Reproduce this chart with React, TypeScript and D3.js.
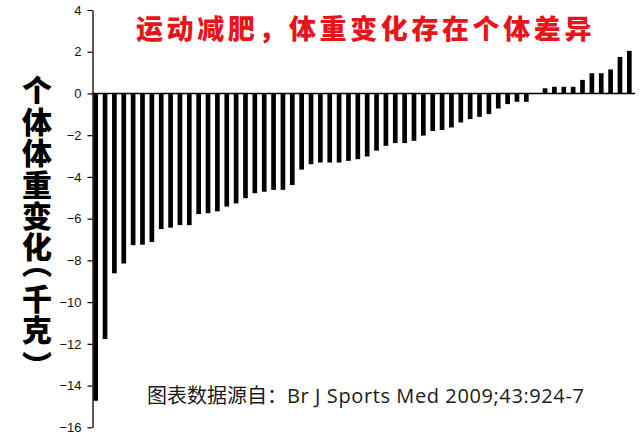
import React, { useRef, useEffect } from 'react';
import * as d3 from 'd3';

// weight change per participant (kg), sorted
const participants = d3.range(1, 59).map((i) => `P${i}`);
const weightChange = [
  -14.73, -11.77, -8.62, -8.15, -7.27, -7.25, -7.12, -6.5, -6.43, -6.31,
  -6.31, -5.78, -5.74, -5.65, -5.42, -5.27, -5.02, -4.78, -4.71, -4.62,
  -4.62, -4.39, -3.65, -3.39, -3.31, -3.31, -3.31, -3.23, -3.15, -3.02,
  -2.74, -2.51, -2.38, -2.38, -2.27, -2.02, -1.8, -1.75, -1.63, -1.39,
  -1.23, -1.12, -0.99, -0.72, -0.51, -0.4, -0.4, 0, 0.25, 0.32,
  0.32, 0.32, 0.65, 0.97, 0.97, 1.15, 1.75, 2.04,
];
const yTicks = [4, 2, 0, -2, -4, -6, -8, -10, -12, -14, -16];

const title = '运动减肥，体重变化存在个体差异';
// vertical title (parentheses as vertical presentation forms)
const yTitleParts = ['个体体重变化', '︵', '千克', '︶'];
const yTitleShifts = [0, -15, 3.6, 4];
const sourceCn = '图表数据源自：';
const sourceEn = 'Br J Sports Med 2009;43:924-7';

const WIDTH = 640;
const HEIGHT = 437;

const App: React.FC = () => {
  const svgRef = useRef<SVGSVGElement>(null);

  useEffect(() => {
    if (!svgRef.current) return;
    const svg = d3.select(svgRef.current);
    svg.selectAll('*').remove();

    const x = d3.scaleBand<string>()
      .domain(participants)
      .range([91, 634])
      .paddingInner(0.5)
      .paddingOuter(0.25);

    const y = d3.scaleLinear().domain([-16, 4]).range([427.3, 10]);

    // bars
    svg.append('g')
      .selectAll('rect')
      .data(weightChange)
      .enter()
      .append('rect')
      .attr('x', (d, i) => x(participants[i]) as number)
      .attr('width', x.bandwidth())
      .attr('y', (d) => y(Math.max(0, d)))
      .attr('height', (d) => Math.abs(y(d) - y(0)))
      .attr('fill', '#000');

    // y axis
    const axisX = 92.5;
    const yAxis = d3.axisLeft(y).tickValues(yTicks).tickSize(5).tickSizeOuter(0).tickPadding(6);
    const gAxis = svg.append('g')
      .attr('transform', `translate(${axisX},0)`)
      .call(yAxis);
    gAxis.select('.domain').attr('stroke', '#000').attr('stroke-width', 1.3);
    gAxis.selectAll('.tick line').attr('stroke', '#000').attr('stroke-width', 1.2);
    gAxis.selectAll('.tick text')
      .attr('fill', '#111')
      .style('font-family', '"Liberation Sans", Arial, sans-serif')
      .style('font-size', '13px');

    // zero line
    svg.append('line')
      .attr('x1', axisX)
      .attr('x2', 635)
      .attr('y1', y(0))
      .attr('y2', y(0))
      .attr('stroke', '#000')
      .attr('stroke-width', 1.5);

    // title
    svg.append('text')
      .attr('x', 136)
      .attr('y', 27)
      .attr('dominant-baseline', 'central')
      .attr('fill', '#e8141b')
      .style('font-family', '"Noto Sans CJK SC", sans-serif')
      .style('font-weight', 900)
      .style('font-size', '27px')
      .style('letter-spacing', '3.6px')
      .text(title);

    // vertical y-axis title
    const yt = svg.append('text')
      .attr('x', 37)
      .attr('y', 75)
      .attr('fill', '#000')
      .style('writing-mode', 'vertical-rl')
      .style('font-family', '"Noto Sans CJK SC", sans-serif')
      .style('font-weight', 900)
      .style('font-size', '30px')
      .style('letter-spacing', '1.4px');
    yTitleParts.forEach((part, i) => {
      yt.append('tspan').attr('dy', yTitleShifts[i]).text(part);
    });

    // source
    const src = svg.append('text')
      .attr('x', 147)
      .attr('y', 403)
      .attr('fill', '#1a1a1a')
      .style('font-family', '"Open Sans", "Noto Sans CJK SC", sans-serif')
      .style('font-size', '20px');
    src.append('tspan').text(sourceCn);
    src.append('tspan').style('letter-spacing', '0.6px').text(sourceEn);
  }, []);

  return (
    <div style={{ position: 'absolute', left: 0, top: 0, width: WIDTH, height: HEIGHT, background: '#fff' }}>
      <svg ref={svgRef} width={WIDTH} height={HEIGHT}></svg>
    </div>
  );
};

export default App;
